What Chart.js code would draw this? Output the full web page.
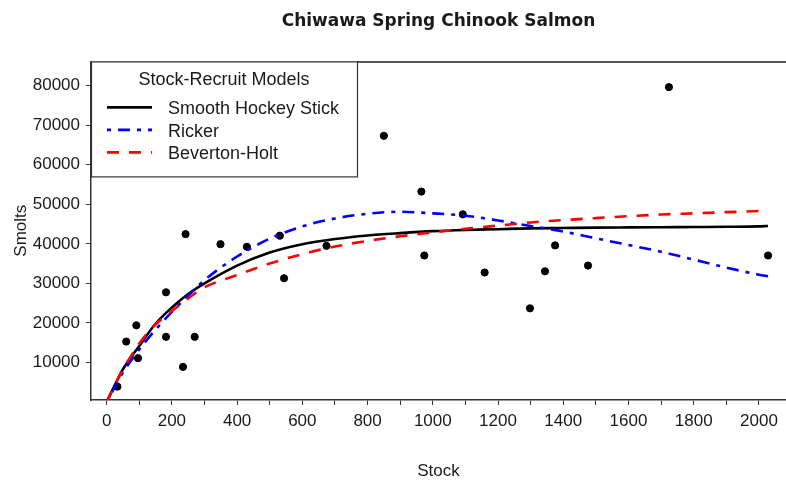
<!DOCTYPE html>
<html>
<head>
<meta charset="utf-8">
<script src="https://cdn.jsdelivr.net/npm/chart.js@4"></script>
<style>
  html, body { margin: 0; padding: 0; background: #fff; overflow: hidden; }
  #wrap { width: 786px; height: 482px; overflow: hidden; }
</style>
</head>
<body>
<div id="wrap"><canvas id="sr-chart" width="791" height="482"></canvas></div>
<script>
// observed stock / smolt pairs
const stockObs = [33, 60, 91, 96, 182, 182, 234, 242, 270, 349, 430, 531, 544, 674, 850, 965, 974, 1092, 1159, 1298, 1344, 1375, 1476, 1724, 2028];
const smoltObs = [3900, 15300, 19400, 11100, 27750, 16500, 8900, 42450, 16500, 39900, 39250, 42050, 31300, 39500, 67300, 53200, 37050, 47450, 32750, 23700, 33050, 39600, 34500, 79600, 37050];

// fitted model curves
const curveX   = [0, 25, 50, 100, 150, 200, 250, 300, 400, 500, 600, 700, 800, 900, 1000, 1100, 1200, 1300, 1400, 1500, 1600, 1700, 1800, 1900, 2000, 2028];
const hockeyY  = [0, 4300, 8300, 14200, 19800, 23900, 27300, 30000, 34500, 37800, 39900, 41200, 42100, 42700, 43200, 43500, 43700, 43900, 44000, 44100, 44150, 44200, 44250, 44300, 44400, 44500];
const rickerY  = [0, 3800, 7500, 13300, 18300, 22800, 26900, 30800, 36800, 41300, 44400, 46400, 47600, 48100, 47700, 47100, 45900, 44500, 43100, 41400, 39700, 38000, 36000, 34000, 32200, 31800];
const bevholtY = [0, 4300, 8200, 14800, 19600, 23000, 26200, 29000, 32100, 35000, 37400, 39300, 40750, 41900, 42900, 43800, 44600, 45400, 46000, 46500, 47000, 47400, 47700, 48000, 48300, 48500];

// axis ticks (x: every 100, labelled every 200)
const xTicks = [0, 100, 200, 300, 400, 500, 600, 700, 800, 900, 1000, 1100, 1200, 1300, 1400, 1500, 1600, 1700, 1800, 1900, 2000];
const yTicks = [10000, 20000, 30000, 40000, 50000, 60000, 70000, 80000];

const modelNames = ['Smooth Hockey Stick', 'Ricker', 'Beverton-Holt'];
const modelColors = ['#000000', '#0000ff', '#ff0000'];
const modelDash = [[], [4, 7, 12, 7], [12, 10]];

const TXT = '#1a1a1a';
const AXIS = '#333333';
Chart.defaults.font.family = "'Liberation Sans', Arial, sans-serif";
Chart.defaults.color = TXT;

const pts = (xs, ys) => xs.map((x, i) => ({ x, y: ys[i] }));

// top frame line + R-style boxed legend in the top-left corner
const frameAndLegend = {
  id: 'frameAndLegend',
  afterDraw(chart) {
    const { ctx, chartArea: ca } = chart;
    ctx.save();
    ctx.strokeStyle = '#555';
    ctx.lineWidth = 2;
    ctx.beginPath();
    ctx.moveTo(ca.left, ca.top + 0.5);
    ctx.lineTo(ca.right, ca.top + 0.5);
    ctx.stroke();

    const bx = ca.left, by = ca.top, bw = 266, bh = 115;
    ctx.fillStyle = '#fff';
    ctx.fillRect(bx, by, bw, bh);
    ctx.strokeStyle = AXIS;
    ctx.lineWidth = 1.2;
    ctx.strokeRect(bx + 0.5, by + 0.5, bw, bh);

    ctx.fillStyle = TXT;
    ctx.font = "18px 'Liberation Sans', Arial, sans-serif";
    ctx.textBaseline = 'middle';
    ctx.textAlign = 'center';
    ctx.fillText('Stock-Recruit Models', bx + bw / 2, by + 19);

    ctx.textAlign = 'left';
    modelNames.forEach((name, i) => {
      const yy = by + 46 + i * 22.5;
      ctx.strokeStyle = modelColors[i];
      ctx.lineWidth = 2.6;
      ctx.setLineDash(modelDash[i]);
      ctx.beginPath();
      ctx.moveTo(bx + 16, yy);
      ctx.lineTo(bx + 61, yy);
      ctx.stroke();
      ctx.setLineDash([]);
      ctx.fillStyle = TXT;
      ctx.fillText(name, bx + 77, yy + 2);
    });
    ctx.restore();
  }
};

const lineSet = (i, ys, order) => ({
  label: modelNames[i],
  data: pts(curveX, ys),
  showLine: true,
  borderColor: modelColors[i],
  borderDash: modelDash[i],
  borderWidth: 2.6,
  pointRadius: 0,
  cubicInterpolationMode: 'monotone',
  order
});

new Chart(document.getElementById('sr-chart').getContext('2d'), {
  type: 'scatter',
  data: {
    datasets: [
      lineSet(0, hockeyY, 3),
      lineSet(1, rickerY, 2),
      lineSet(2, bevholtY, 1),
      {
        label: 'Observed',
        data: pts(stockObs, smoltObs),
        backgroundColor: '#000',
        borderColor: '#000',
        pointRadius: 3.6,
        order: 4
      }
    ]
  },
  options: {
    responsive: false,
    animation: false,
    layout: { padding: 0 },
    plugins: {
      legend: { display: false },
      tooltip: { enabled: false },
      title: {
        display: true,
        fullSize: false,
        text: 'Chiwawa Spring Chinook Salmon',
        color: TXT,
        font: { family: "'DejaVu Sans', Verdana, sans-serif", size: 17, weight: 'bold' },
        padding: { top: 11, bottom: 30 }
      }
    },
    scales: {
      x: {
        type: 'linear',
        min: -48,
        max: 2083,
        afterBuildTicks: s => { s.ticks = xTicks.map(v => ({ value: v })); },
        afterFit: s => { s.height = 82; },
        ticks: {
          autoSkip: false,
          maxRotation: 0,
          padding: 6,
          color: TXT,
          font: { size: 17 },
          callback: v => (v % 200 === 0 ? String(v) : '')
        },
        grid: { drawOnChartArea: false, drawTicks: true, tickLength: 5, color: AXIS },
        border: { display: true, color: AXIS, width: 1.5 },
        title: { display: true, text: 'Stock', color: TXT, font: { size: 17 }, padding: { top: 0, bottom: 0 } }
      },
      y: {
        min: 530,
        max: 86100,
        afterBuildTicks: s => { s.ticks = yTicks.map(v => ({ value: v })); },
        afterFit: s => { s.width = 91; },
        ticks: {
          autoSkip: false,
          padding: 6,
          color: TXT,
          font: { size: 17 },
          callback: v => String(v)
        },
        grid: { drawOnChartArea: false, drawTicks: true, tickLength: 5, color: AXIS },
        border: { display: true, color: AXIS, width: 1.5 },
        title: { display: true, text: 'Smolts', color: TXT, font: { size: 17 }, padding: { top: 11, bottom: 11 } }
      }
    }
  },
  plugins: [frameAndLegend]
});
</script>
</body>
</html>
